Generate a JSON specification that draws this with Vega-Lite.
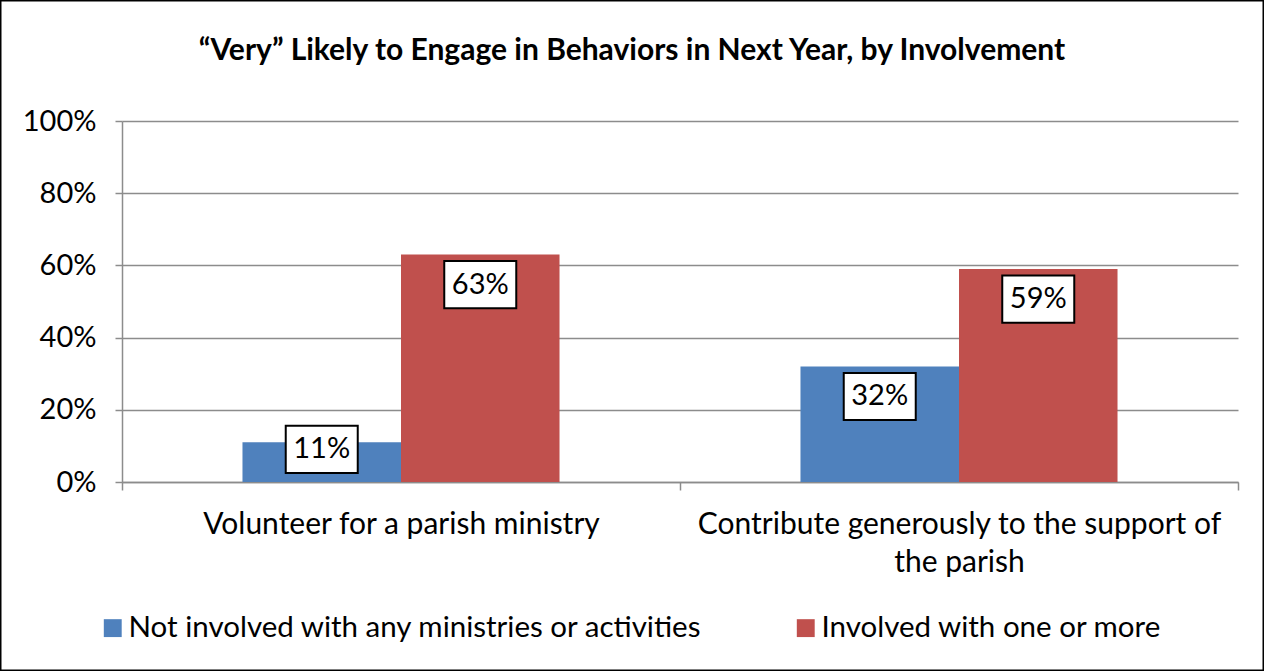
{
  "$schema": "https://vega.github.io/schema/vega-lite/v6.json",
  "width": 1264,
  "height": 671,
  "autosize": "none",
  "padding": 0,
  "background": "white",
  "config": {
    "font": "Lato",
    "view": {"stroke": "black", "strokeWidth": 3},
    "axis": {"labelColor": "black", "labelFont": "Lato", "labelFontSize": 29, "domainColor": "#8c8c8c", "tickColor": "#8c8c8c", "gridColor": "#8c8c8c", "domainWidth": 1.5, "tickWidth": 1.5, "gridWidth": 1.5}
  },
  "title": {
    "text": "“Very” Likely to Engage in Behaviors in Next Year, by Involvement",
    "font": "Lato",
    "fontSize": 30,
    "fontWeight": "bold",
    "color": "black",
    "anchor": "middle",
    "dy": 70
  },
  "data": {
    "values": [
      {"category": "Volunteer for a parish ministry", "group": "Not involved with any ministries or activities", "value": 0.11},
      {"category": "Volunteer for a parish ministry", "group": "Involved with one or more", "value": 0.63},
      {"category": "Contribute generously to the support of the parish", "group": "Not involved with any ministries or activities", "value": 0.32},
      {"category": "Contribute generously to the support of the parish", "group": "Involved with one or more", "value": 0.59}
    ]
  },
  "encoding": {
    "x": {
      "field": "category", "type": "nominal", "sort": null,
      "scale": {"range": [122, 1238], "paddingInner": 0, "paddingOuter": 0},
      "axis": {
        "title": null, "offset": -189, "labelAngle": 0, "tickBand": "extent", "tickSize": 8,
        "labelPadding": 19, "labelLimit": 0, "labelLineHeight": 38, "labelBaseline": "top",
        "labelFontSize": 30,
        "labelExpr": "datum.value == 'Contribute generously to the support of the parish' ? ['Contribute generously to the support of', 'the parish'] : datum.value"
      }
    },
    "xOffset": {
      "field": "group", "type": "nominal", "sort": null,
      "scale": {"paddingOuter": 0.76, "paddingInner": 0}
    },
    "y": {
      "field": "value", "type": "quantitative",
      "scale": {"domain": [0, 1], "range": [482, 121], "nice": false},
      "axis": {"title": null, "offset": -122, "format": ".0%", "values": [0, 0.2, 0.4, 0.6, 0.8, 1], "tickSize": 7, "labelPadding": 19, "grid": true}
    }
  },
  "layer": [
    {
      "mark": {"type": "bar"},
      "encoding": {
        "color": {
          "field": "group", "type": "nominal", "sort": null,
          "scale": {"domain": ["Not involved with any ministries or activities", "Involved with one or more"], "range": ["#4F81BD", "#C0504D"]},
          "legend": {
            "title": null, "orient": "none", "legendX": 98, "legendY": 613, "direction": "horizontal",
            "symbolType": "square", "symbolSize": 320, "symbolStrokeWidth": 0,
            "labelFont": "Lato", "labelFontSize": 29.5, "labelColor": "black", "labelLimit": 0,
            "columnPadding": 88, "labelOffset": 1
          }
        }
      }
    },
    {
      "transform": [{"filter": "datum.value >= 0.2"}],
      "mark": {"type": "point", "shape": "M-1,0.18H1V1.49H-1Z", "size": 5184, "filled": true, "fill": "white", "stroke": "black", "strokeWidth": 2, "opacity": 1}
    },
    {
      "transform": [{"filter": "datum.value >= 0.2"}],
      "mark": {"type": "text", "dy": 30, "baseline": "middle", "align": "center", "fontSize": 29, "font": "Lato", "color": "black"},
      "encoding": {"text": {"field": "value", "type": "quantitative", "format": ".0%"}}
    },
    {
      "transform": [{"filter": "datum.value < 0.2"}],
      "mark": {"type": "point", "shape": "M-1,-0.46H1V0.85H-1Z", "size": 5184, "filled": true, "fill": "white", "stroke": "black", "strokeWidth": 2, "opacity": 1}
    },
    {
      "transform": [{"filter": "datum.value < 0.2"}],
      "mark": {"type": "text", "dy": 7, "baseline": "middle", "align": "center", "fontSize": 29, "font": "Lato", "color": "black"},
      "encoding": {"text": {"field": "value", "type": "quantitative", "format": ".0%"}}
    }
  ]
}
